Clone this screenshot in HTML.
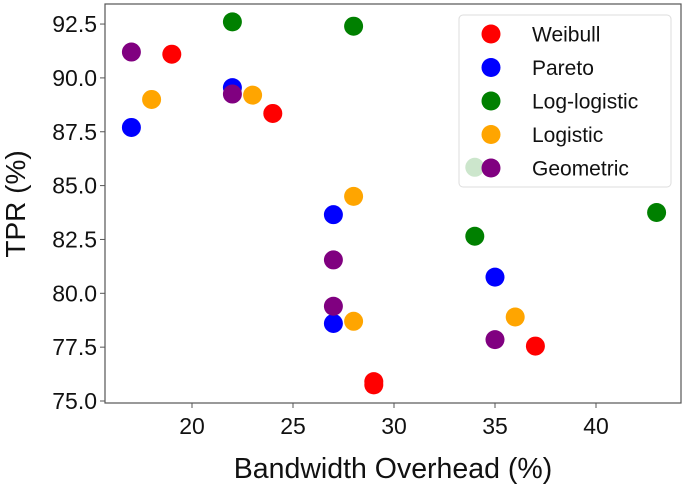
<!DOCTYPE html>
<html><head><meta charset="utf-8"><style>
html,body{margin:0;padding:0;background:#fff;}
svg{display:block;font-family:"Liberation Sans",Arial,sans-serif;}
</style></head><body>
<svg id="chart" width="685" height="488" xmlns="http://www.w3.org/2000/svg"></svg>
<script>
const seriesNames=["Weibull","Pareto","Log-logistic","Logistic","Geometric"];
const seriesColors=["red","blue","green","orange","purple"];
const weibullX=[19,24,29,29,37];
const weibullY=[91.1,88.35,75.9,75.75,77.55];
const paretoX=[17,22,27,27,35];
const paretoY=[87.7,89.55,83.65,78.6,80.75];
const loglogX=[22,28,34,43,34];
const loglogY=[92.6,92.4,82.65,83.75,85.85];
const logisticX=[18,23,28,28,36];
const logisticY=[89,89.2,84.5,78.7,78.9];
const geomX=[17,22,27,27,35];
const geomY=[91.2,89.25,81.55,79.4,77.85];
const xTicks=[20,25,30,35,40];
const yTicks=[75.0,77.5,80.0,82.5,85.0,87.5,90.0,92.5];

const NS="http://www.w3.org/2000/svg";
const svg=document.getElementById('chart');
const L=105,R=681,T=4,B=403;
function sx(v){return 192+(v-20)*20.2;}
function sy(v){return 401-(v-75)*21.54;}
function mk(tag,attrs,parent){const e=document.createElementNS(NS,tag);for(const k in attrs)e.setAttribute(k,attrs[k]);(parent||svg).appendChild(e);return e;}

const allX=[weibullX,paretoX,loglogX,logisticX,geomX];
const allY=[weibullY,paretoY,loglogY,logisticY,geomY];
const pts=mk('g',{});


allX.forEach((xs,s)=>{
  xs.forEach((x,i)=>{
    const c=mk('circle',{cx:sx(x),cy:sy(allY[s][i]),r:9.5,fill:seriesColors[s]},pts);
    
    
  });
});

const frame=mk('rect',{x:L,y:T,width:R-L,height:B-T,fill:'none',stroke:'#555','stroke-width':1.2});



xTicks.forEach(t=>{
  mk('line',{x1:sx(t),x2:sx(t),y1:B,y2:B+5,stroke:'#555'});
  const tx=mk('text',{x:sx(t),y:B+31,'font-size':23,'text-anchor':'middle',fill:'#111'});
  tx.textContent=t;
  
  
});
yTicks.forEach(t=>{
  mk('line',{x1:L-5,x2:L,y1:sy(t),y2:sy(t),stroke:'#555'});
  const tx=mk('text',{x:L-8,y:sy(t)+8,'font-size':23,'text-anchor':'end',fill:'#111'});
  tx.textContent=t.toFixed(1);
  
  
});
const xt=mk('text',{x:393,y:478,'font-size':28.5,'text-anchor':'middle',fill:'#111'});
xt.textContent='Bandwidth Overhead (%)';


const yt=mk('text',{x:0,y:0,'font-size':28,'text-anchor':'middle',fill:'#111',transform:'translate(25,204) rotate(-90)'});
yt.textContent='TPR (%)';



const lg=mk('g',{});


mk('rect',{x:459,y:15,width:212,height:172,rx:4,fill:'rgba(255,255,255,0.8)',stroke:'#ddd'},lg);
seriesNames.forEach((n,i)=>{
  const y=34+i*33.5;
  mk('circle',{cx:491,cy:y,r:9.5,fill:seriesColors[i]},lg);
  const t=mk('text',{x:532,y:y+7.5,'font-size':21,fill:'#111'},lg);
  t.textContent=n;
  
  
});
</script>
</body></html>
